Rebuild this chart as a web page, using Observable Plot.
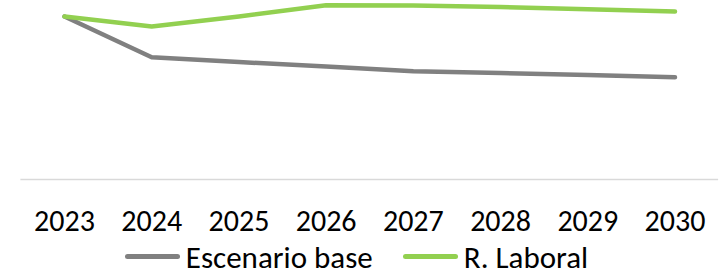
<!DOCTYPE html>
<html>
<head>
<meta charset="utf-8">
<script src="https://cdn.jsdelivr.net/npm/d3@7"></script>
<script src="https://cdn.jsdelivr.net/npm/@observablehq/plot@0.6"></script>
<style>
  html, body { margin: 0; padding: 0; background: #fff; }
  body { width: 725px; height: 277px; overflow: hidden; font-family: Carlito, Lato, "Open Sans", sans-serif; }
  #legend { display: flex; justify-content: center; align-items: center; height: 37px; font-size: 31px; color: #000; margin-left: -12px; margin-top: -2px; }
  .item { display: flex; align-items: center; }
  .sw { width: 55px; height: 5px; border-radius: 3px; margin-right: 6px; }
  .gap { width: 30px; }
</style>
</head>
<body>
<div id="chart"></div>
<div id="legend"></div>
<script>
const years = [2023, 2024, 2025, 2026, 2027, 2028, 2029, 2030];
const seriesNames = ["Escenario base", "R. Laboral"];
const escenarioBase = [163, 122.3, 117.5, 113, 108.3, 106.5, 104.5, 102.3];
const rLaboral = [163, 153, 163, 174.3, 174, 172.5, 170.3, 168];
const colors = ["#808080", "#92D050"];

const data = [
  ...years.map((y, i) => ({year: y, value: escenarioBase[i], series: seriesNames[0]})),
  ...years.map((y, i) => ({year: y, value: rLaboral[i], series: seriesNames[1]}))
];

const chart = Plot.plot({
  width: 725,
  height: 240,
  marginTop: 0,
  marginLeft: 64,
  marginRight: 50.5,
  marginBottom: 61,
  style: {fontFamily: "Carlito, Lato, 'Open Sans', sans-serif", fontSize: "30px", color: "#000", background: "#fff", overflow: "visible"},
  x: {domain: [2023, 2030], ticks: years, tickFormat: "d", label: null},
  y: {domain: [0, 179], range: [179, 0], axis: null},
  color: {domain: seriesNames, range: colors},
  marks: [
    Plot.ruleY([0], {x1: 2022.5, x2: 2030.5, stroke: "#d9d9d9", strokeWidth: 1.5}),
    Plot.line(data, {x: "year", y: "value", z: "series", stroke: "series", strokeWidth: 4.5, strokeLinecap: "round", strokeLinejoin: "round"}),
    Plot.axisX({ticks: years, tickFormat: "d", tickSize: 0, tickPadding: 30, fontSize: 30, fill: "#000", label: null})
  ]
});
document.getElementById("chart").appendChild(chart);

const legend = document.getElementById("legend");
seriesNames.forEach((name, i) => {
  if (i > 0) { const g = document.createElement("div"); g.className = "gap"; legend.appendChild(g); }
  const item = document.createElement("div");
  item.className = "item";
  const sw = document.createElement("div");
  sw.className = "sw";
  sw.style.background = colors[i];
  const t = document.createElement("span");
  t.textContent = name;
  item.appendChild(sw);
  item.appendChild(t);
  legend.appendChild(item);
});
</script>
</body>
</html>
